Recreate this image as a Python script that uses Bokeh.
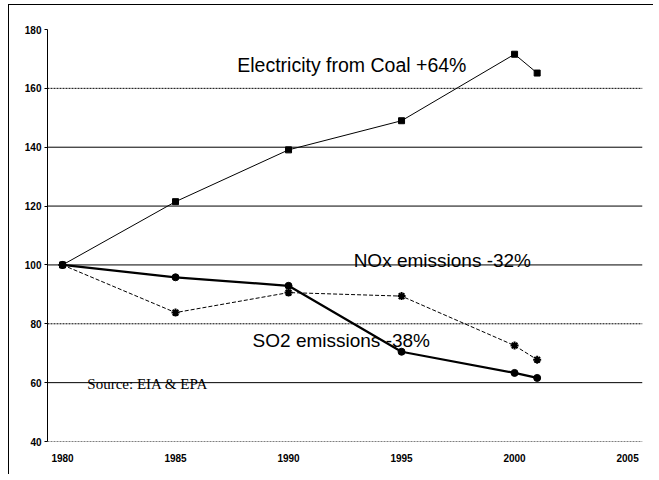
from bokeh.plotting import figure
from bokeh.models import Span, Range1d, FixedTicker, Label
from bokeh.embed import file_html
from bokeh.resources import INLINE

# ---- data (index, 1980 = 100) ----
years = [1980, 1985, 1990, 1995, 2000, 2001]
coal = [100, 121.5, 139.1, 149.0, 171.6, 165.2]
so2 = [100, 95.8, 92.9, 70.5, 63.3, 61.6]
nox = [100, 83.8, 90.6, 89.4, 72.6, 67.8]

x_ticks = [1980, 1985, 1990, 1995, 2000, 2005]
y_ticks = [40, 60, 80, 100, 120, 140, 160, 180]
grid_solid = [60, 100, 120, 140]
grid_dotted = [40, 80, 160]

coal_label = "Electricity from Coal +64%"
nox_label = "NOx emissions -32%"
so2_label = "SO2 emissions -38%"
source_label = "Source: EIA & EPA"

p = figure(width=645, height=470,
           x_range=Range1d(1979.336, 2005.66), y_range=Range1d(40, 180),
           output_backend="svg", toolbar_location=None,
           min_border_left=38, min_border_right=12,
           min_border_top=24, min_border_bottom=34)
p.styles = {"border-left": "1px solid black", "border-top": "1px solid black",
            "margin-left": "8px", "margin-top": "4px"}
p.outline_line_color = None
p.xgrid.visible = False
p.ygrid.visible = False
p.background_fill_color = "white"
p.border_fill_color = "white"

# gridlines
for v in grid_solid:
    p.add_layout(Span(location=v, dimension="width", line_color="black", line_width=1))
for v in grid_dotted:
    p.add_layout(Span(location=v, dimension="width", line_color="black",
                      line_width=1, line_dash="2 1"))

# axes
p.xaxis.ticker = FixedTicker(ticks=x_ticks)
p.yaxis.ticker = FixedTicker(ticks=y_ticks)
for ax in (p.xaxis[0], p.yaxis[0]):
    ax.major_label_text_font = "Liberation Sans"
    ax.major_label_text_font_size = "10px"
    ax.major_label_text_font_style = "bold"
    ax.major_label_text_color = "black"
    ax.minor_tick_line_color = None
    ax.axis_line_color = "black"
p.xaxis.axis_line_color = None
p.xaxis.major_tick_line_color = None
p.xaxis.major_tick_out = 0
p.xaxis.major_tick_in = 0
p.xaxis.major_label_standoff = 12
p.yaxis.major_tick_out = 3
p.yaxis.major_tick_in = 0
p.yaxis.major_tick_line_color = "black"
p.yaxis.major_label_standoff = 3

# series
p.line(years, coal, line_color="black", line_width=1)
p.scatter(years, coal, marker="square", size=6, color="black")

p.line(years, so2, line_color="black", line_width=2.2)
p.scatter(years, so2, marker="circle", size=7, color="black")

p.line(years, nox, line_color="black", line_width=1, line_dash="4 2")
p.scatter(years, nox, marker="asterisk", size=8, line_color="black", line_width=2)

# annotations
p.add_layout(Label(x=1987.73, y=167.9, text=coal_label, text_font="Liberation Sans",
                   text_font_size="19.5px", text_color="black", text_baseline="alphabetic"))
p.add_layout(Label(x=1992.88, y=101.5, text=nox_label, text_font="Liberation Sans",
                   text_font_size="19px", text_color="black", text_baseline="alphabetic"))
p.add_layout(Label(x=1988.41, y=74.2, text=so2_label, text_font="Liberation Sans",
                   text_font_size="19px", text_color="black", text_baseline="alphabetic"))
p.add_layout(Label(x=1981.1, y=59.6, text=source_label, text_font="Liberation Serif",
                   text_font_size="15px", text_color="black", text_baseline="alphabetic"))

open("out.html", "w").write(file_html(p, INLINE))
